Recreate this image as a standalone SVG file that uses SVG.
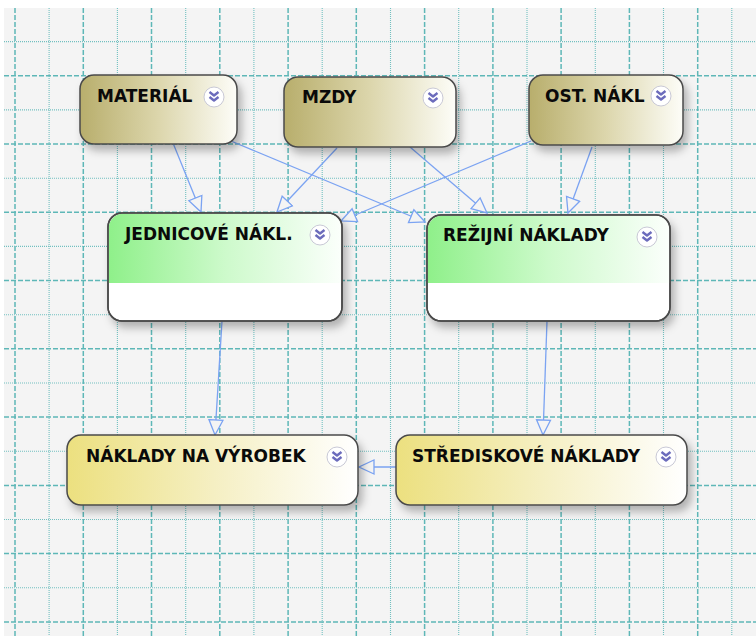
<svg xmlns="http://www.w3.org/2000/svg" width="756" height="636" viewBox="0 0 756 636">
<style>
.gd{stroke:#5eb7b7;stroke-width:1.5;stroke-dasharray:5 2;fill:none}
.gt{stroke:#72c0c0;stroke-width:1.1;stroke-dasharray:1 1;fill:none}
.box{stroke:#4a4a4a;stroke-width:1.5}
.lbl{font-family:"DejaVu Sans",Verdana,sans-serif;font-weight:bold;font-size:17px;fill:#0a0a0a}
.con{stroke:#7ba3f2;stroke-width:1.3;fill:none;marker-end:url(#arr)}
</style>
<defs>
<linearGradient id="gOlive" x1="0" y1="0" x2="1" y2="0"><stop offset="0" stop-color="#b8ae6c"/><stop offset="0.5" stop-color="#dcd6ac"/><stop offset="1" stop-color="#fdfdf8"/></linearGradient>
<linearGradient id="gYellow" x1="0" y1="0" x2="1" y2="0"><stop offset="0" stop-color="#ece07f"/><stop offset="0.5" stop-color="#f5efc2"/><stop offset="1" stop-color="#ffffff"/></linearGradient>
<linearGradient id="gGreen" x1="0" y1="0" x2="1" y2="0"><stop offset="0" stop-color="#8ff08a"/><stop offset="0.5" stop-color="#cdfacb"/><stop offset="1" stop-color="#fbfffb"/></linearGradient>
<filter id="sh" x="-10%" y="-20%" width="130%" height="150%"><feDropShadow dx="4" dy="6" stdDeviation="4" flood-color="#000" flood-opacity="0.28"/></filter>
<marker id="arr" markerUnits="userSpaceOnUse" markerWidth="18" markerHeight="18" viewBox="-1 -9 18 18" refX="15" refY="0" orient="auto"><path d="M0,-7 L15,0 L0,7 Z" fill="#f4f4f4" stroke="#7ba3f2" stroke-width="1.3"/></marker>
<g id="ic"><circle r="10" fill="#fff" stroke="#c9c9d6" stroke-width="1"/><path d="M-4.5,-5 L0,-1.5 L4.5,-5 M-4.5,0 L0,3.5 L4.5,0" fill="none" stroke="#6c6cbc" stroke-width="2.4" stroke-linejoin="round"/></g>
</defs>
<rect x="0" y="0" width="756" height="636" fill="#ffffff"/>
<rect x="4" y="8" width="752" height="628" fill="#f4f4f4"/>
<g id="grid">
<path class="gd" d="M15,8V636M83.3,8V636M151.5,8V636M219.8,8V636M288.1,8V636M356.3,8V636M424.6,8V636M492.9,8V636M561.1,8V636M629.4,8V636M697.7,8V636"/>
<path class="gt" d="M49.1,8V636M117.4,8V636M185.7,8V636M253.9,8V636M322.2,8V636M390.5,8V636M458.7,8V636M527,8V636M595.3,8V636M663.5,8V636M731.8,8V636"/>
<path class="gd" d="M4,75.8H756M4,144H756M4,212.3H756M4,280.6H756M4,348.8H756M4,417.1H756M4,485.4H756M4,553.6H756M4,621.9H756"/>
<path class="gt" d="M4,41.6H756M4,109.9H756M4,178.2H756M4,246.4H756M4,314.7H756M4,383H756M4,451.2H756M4,519.5H756M4,587.8H756"/>
</g>
<g id="connectors">
<path class="con" d="M173,143 L201,212"/>
<path class="con" d="M231,141 L425,222"/>
<path class="con" d="M337,148 L277,212"/>
<path class="con" d="M410,147 L487,213"/>
<path class="con" d="M531,141 L341,221"/>
<path class="con" d="M592,147 L568,213"/>
<path class="con" d="M222,321 L215,435"/>
<path class="con" d="M547,321 L543,435"/>
<path class="con" d="M396,467 L359,467"/>
</g>
<g id="material">
<rect class="box" x="80" y="75" width="157" height="69" rx="14" fill="url(#gOlive)" filter="url(#sh)"/>
<text class="lbl" x="97" y="102">MATERIÁL</text>
<use href="#ic" x="214" y="97"/>
</g>
<g id="mzdy">
<rect class="box" x="284" y="77" width="172" height="70" rx="14" fill="url(#gOlive)" filter="url(#sh)"/>
<text class="lbl" x="302" y="103">MZDY</text>
<use href="#ic" x="433" y="98"/>
</g>
<g id="ost">
<rect class="box" x="529" y="75" width="154" height="70" rx="14" fill="url(#gOlive)" filter="url(#sh)"/>
<text class="lbl" x="545" y="102">OST. NÁKL</text>
<use href="#ic" x="661" y="96"/>
</g>
<g id="jednicove">
<rect class="box" x="108" y="213" width="234" height="108" rx="14" fill="#fff" filter="url(#sh)"/>
<path d="M108.8,283 V227 A14,14 0 0 1 122,213.8 H328 A14,14 0 0 1 341.2,227 V283 Z" fill="url(#gGreen)"/>
<rect x="108" y="213" width="234" height="108" rx="14" fill="none" class="box"/>
<text class="lbl" x="125" y="240">JEDNICOVÉ NÁKL.</text>
<use href="#ic" x="320" y="235"/>
</g>
<g id="rezijni">
<rect class="box" x="427" y="215" width="243" height="106" rx="14" fill="#fff" filter="url(#sh)"/>
<path d="M427.8,283 V229 A14,14 0 0 1 441,215.8 H656 A14,14 0 0 1 669.2,229 V283 Z" fill="url(#gGreen)"/>
<rect x="427" y="215" width="243" height="106" rx="14" fill="none" class="box"/>
<text class="lbl" x="443" y="241">REŽIJNÍ NÁKLADY</text>
<use href="#ic" x="647" y="237"/>
</g>
<g id="naklady">
<rect class="box" x="67" y="435" width="291" height="70" rx="14" fill="url(#gYellow)" filter="url(#sh)"/>
<text class="lbl" x="86" y="462">NÁKLADY NA VÝROBEK</text>
<use href="#ic" x="337" y="457"/>
</g>
<g id="strediskove">
<rect class="box" x="396" y="435" width="291" height="70" rx="14" fill="url(#gYellow)" filter="url(#sh)"/>
<text class="lbl" x="412" y="462">STŘEDISKOVÉ NÁKLADY</text>
<use href="#ic" x="666" y="457"/>
</g>
</svg>
